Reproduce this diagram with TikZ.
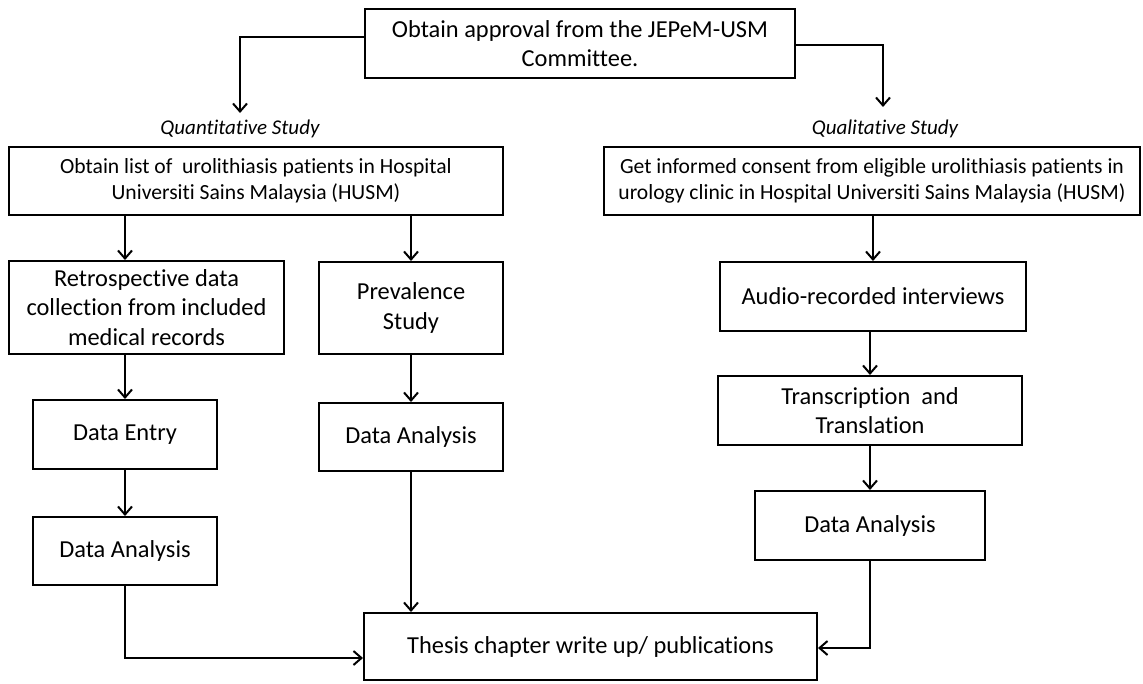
\documentclass[tikz,border=0pt]{standalone}
\usepackage{fontspec}
\setmainfont{Carlito}[Ligatures=NoCommon]
\usetikzlibrary{arrows.meta}
\begin{document}
\begin{tikzpicture}[x=1pt,y=-1pt,
  box/.style={draw, line width=2pt, inner sep=0pt, align=center, font=\fontsize{24.4}{29.5}\selectfont},
  smallbox/.style={box, font=\fontsize{21.6}{26}\selectfont},
  lbl/.style={inner sep=0pt, font=\fontsize{21}{24}\selectfont\itshape},
  arr/.style={line width=2pt, -{Straight Barb[length=8pt,width=14pt,line width=2pt]}}]
\useasboundingbox (0,0) rectangle (1143,683);
\node[box, minimum width=430pt, minimum height=69pt] (top) at (580,43.5) {Obtain approval from the JEPeM-USM\\Committee.};
\node[lbl] (quant) at (240,129) {Quantitative Study};
\node[lbl] (qual) at (885,129) {Qualitative Study};
\node[smallbox, minimum width=494pt, minimum height=68pt] (list) at (256,181) {Obtain list of \ urolithiasis patients in Hospital\\Universiti Sains Malaysia (HUSM)};
\node[smallbox, minimum width=536pt, minimum height=68pt] (consent) at (872,181) {Get informed consent from eligible urolithiasis patients in\\urology clinic in Hospital Universiti Sains Malaysia (HUSM)};
\node[box, minimum width=275pt, minimum height=93pt] (retro) at (146.5,307.5) {Retrospective data\\collection from included\\medical records};
\node[box, minimum width=184pt, minimum height=92pt] (prev) at (411,308) {Prevalence\\Study};
\node[box, minimum width=184pt, minimum height=69pt] (entry) at (125,434.5) {Data Entry};
\node[box, minimum width=184pt, minimum height=68pt] (daone) at (125,551) {Data Analysis};
\node[box, minimum width=184pt, minimum height=68pt] (datwo) at (411,437) {Data Analysis};
\node[box, minimum width=306pt, minimum height=69pt] (audio) at (873,296.5) {Audio-recorded interviews};
\node[box, minimum width=304pt, minimum height=69pt] (trans) at (870,410.5) {Transcription \ and\\Translation};
\node[box, minimum width=230pt, minimum height=69pt] (dathree) at (870,525.5) {Data Analysis};
\node[box, minimum width=453pt, minimum height=67pt] (thesis) at (590.5,646.5) {Thesis chapter write up/ publications};
\coordinate (qa) at (240,113);
\coordinate (qb) at (883,107);
\draw[arr] ([yshift=6.5pt]top.west) -| (qa);
\draw[arr] ([yshift=-1.5pt]top.east) -| (qb);
\draw[arr] (list.south -| entry.north) -- (retro.north -| entry.north);
\draw[arr] (list.south -| prev.north) -- (prev.north);
\draw[arr] (retro.south -| entry.north) -- (entry.north);
\draw[arr] (entry.south) -- (daone.north);
\draw[arr] (prev.south -| datwo.north) -- (datwo.north);
\draw[arr] (consent.south -| audio.north) -- (audio.north);
\draw[arr] (audio.south -| trans.north) -- (trans.north);
\draw[arr] (trans.south) -- (dathree.north);
\draw[arr] (daone.south) |- ([yshift=-11.5pt]thesis.west);
\draw[arr] (datwo.south) -- (datwo.south |- thesis.north);
\draw[arr] (dathree.south) |- ([yshift=-1.5pt]thesis.east);
\end{tikzpicture}
\end{document}
